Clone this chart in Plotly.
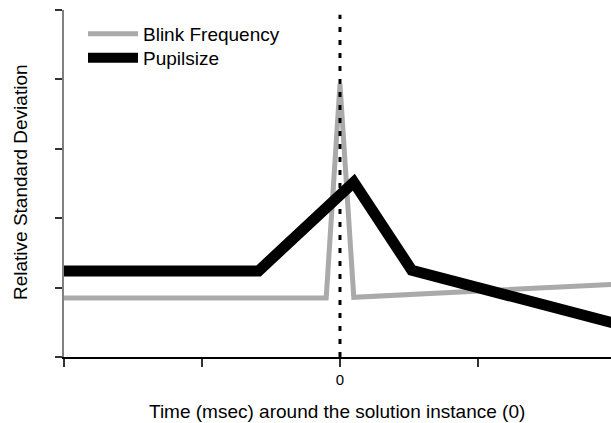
import plotly.graph_objects as go

# Data (time in msec, relative standard deviation)
blink_x = [-2000, -100, 0, 100, 2000]
blink_y = [0.85, 0.85, 3.93, 0.86, 1.05]
pupil_x = [-2000, -590, 100, 520, 2000]
pupil_y = [1.24, 1.24, 2.52, 1.25, 0.48]
vline_x = [0, 0]
vline_y = [0, 4.93]
x_tickvals = [-2000, -1000, 0, 1000]
x_ticktext = ["", "", "0", ""]
y_tickvals = [0, 1, 2, 3, 4, 5]

FONT = "Liberation Sans, Arial, sans-serif"

fig = go.Figure()
fig.add_trace(go.Scatter(x=blink_x, y=blink_y, mode="lines", name="Blink Frequency",
                         legend="legend",
                         line=dict(color="#aaaaaa", width=5)))
fig.add_trace(go.Scatter(x=vline_x, y=vline_y, mode="lines", showlegend=False,
                         line=dict(color="black", width=3, dash="5px,8px")))
fig.add_trace(go.Scatter(x=pupil_x, y=pupil_y, mode="lines", name="Pupilsize",
                         legend="legend2",
                         line=dict(color="black", width=11)))

W, H = 611, 423
L, R, T, B = 64, 0, 10, 66
pw, ph = W - L - R, H - T - B

def px(xp):
    return (xp - L) / pw

def py(yp):
    return (H - B - yp) / ph

leg_common = dict(xanchor="left", yanchor="top", font=dict(size=19, family=FONT),
                  bgcolor="rgba(0,0,0,0)", itemwidth=50, tracegroupgap=0)

fig.update_layout(
    width=W, height=H,
    margin=dict(l=L, r=R, t=T, b=B, pad=0),
    paper_bgcolor="white", plot_bgcolor="white",
    font=dict(family=FONT, color="black"),
    showlegend=True,
    legend=dict(x=px(83), y=py(15), **leg_common),
    legend2=dict(x=px(83), y=py(39), **leg_common),
    xaxis=dict(range=[-2000, 1964], showgrid=False, zeroline=False,
               showline=True, linecolor="black", linewidth=2,
               ticks="outside", ticklen=8, tickwidth=1.5, tickcolor="#333",
               tickvals=x_tickvals, ticktext=x_ticktext,
               tickfont=dict(size=15, family=FONT)),
    yaxis=dict(range=[0, 5], showgrid=False, zeroline=False,
               showline=True, linecolor="#808080", linewidth=2,
               ticks="outside", ticklen=7, tickwidth=1.5, tickcolor="#333",
               tickvals=y_tickvals, showticklabels=False),
    annotations=[
        dict(text="Time (msec) around the solution instance (0)", xref="paper", yref="paper",
             x=px(336.5), y=py(411), xanchor="center", yanchor="middle", showarrow=False,
             font=dict(size=19, family=FONT)),
        dict(text="Relative Standard Deviation", xref="paper", yref="paper",
             x=px(20), y=py(182), xanchor="center", yanchor="middle", showarrow=False,
             textangle=-90, font=dict(size=19, family=FONT)),
    ],
)

fig.write_html("out.html")
